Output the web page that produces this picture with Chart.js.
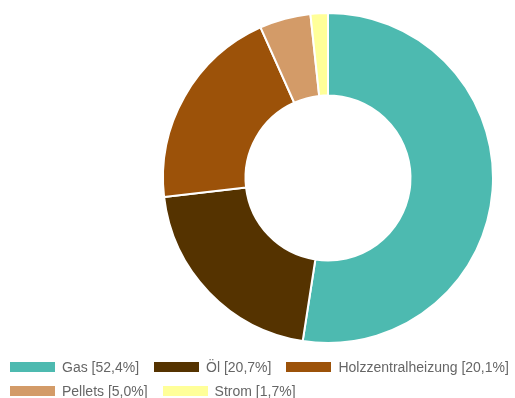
<!DOCTYPE html>
<html>
<head>
<meta charset="utf-8">
<script src="https://cdn.jsdelivr.net/npm/chart.js@4/dist/chart.umd.min.js"></script>
<style>
  html, body { margin: 0; padding: 0; background: #ffffff; }
  #wrap { width: 515px; height: 398px; position: relative; overflow: hidden; }
  #c { position: absolute; left: 0; top: 0; }
  #legend {
    position: absolute; left: 10px; top: 355px; width: 522px;
    font-family: 'Liberation Sans', Arial, sans-serif; font-size: 14px; color: #666666;
    line-height: 24px;
  }
  #legend .item { display: inline-flex; align-items: center; margin-right: 15px; white-space: nowrap; height: 24px; vertical-align: top; }
  #legend .box { display: inline-block; width: 45px; height: 10px; margin-right: 7px; }
</style>
</head>
<body>
<div id="wrap">
  <canvas id="c" width="515" height="398"></canvas>
  <div id="legend"></div>
</div>
<script>
// Heating types and their shares (percent)
const categories = ['Gas', 'Öl', 'Holzzentralheizung', 'Pellets', 'Strom'];
const shares = [52.4, 20.7, 20.1, 5.0, 1.7];
const sliceColors = ['#4dbab0', '#553300', '#9c5209', '#d39b68', '#ffff99'];

const legendText = categories.map((c, i) => c + ' [' + shares[i].toFixed(1).replace('.', ',') + '%]');

const chart = new Chart(document.getElementById('c'), {
  type: 'doughnut',
  data: {
    labels: legendText,
    datasets: [{
      data: shares,
      backgroundColor: sliceColors,
      borderColor: '#ffffff',
      borderWidth: 2
    }]
  },
  options: {
    responsive: false,
    animation: false,
    cutout: '50%',
    layout: { padding: { left: 161, right: 20, top: 12, bottom: 54 } },
    plugins: {
      tooltip: { enabled: false },
      legend: { display: false }
    }
  }
});

// HTML legend built from the chart's own labels and colours
const legendEl = document.getElementById('legend');
chart.data.labels.forEach((label, i) => {
  const item = document.createElement('span');
  item.className = 'item';
  const box = document.createElement('span');
  box.className = 'box';
  box.style.background = chart.data.datasets[0].backgroundColor[i];
  const txt = document.createElement('span');
  txt.textContent = label;
  item.appendChild(box);
  item.appendChild(txt);
  legendEl.appendChild(item);
});
</script>
</body>
</html>
